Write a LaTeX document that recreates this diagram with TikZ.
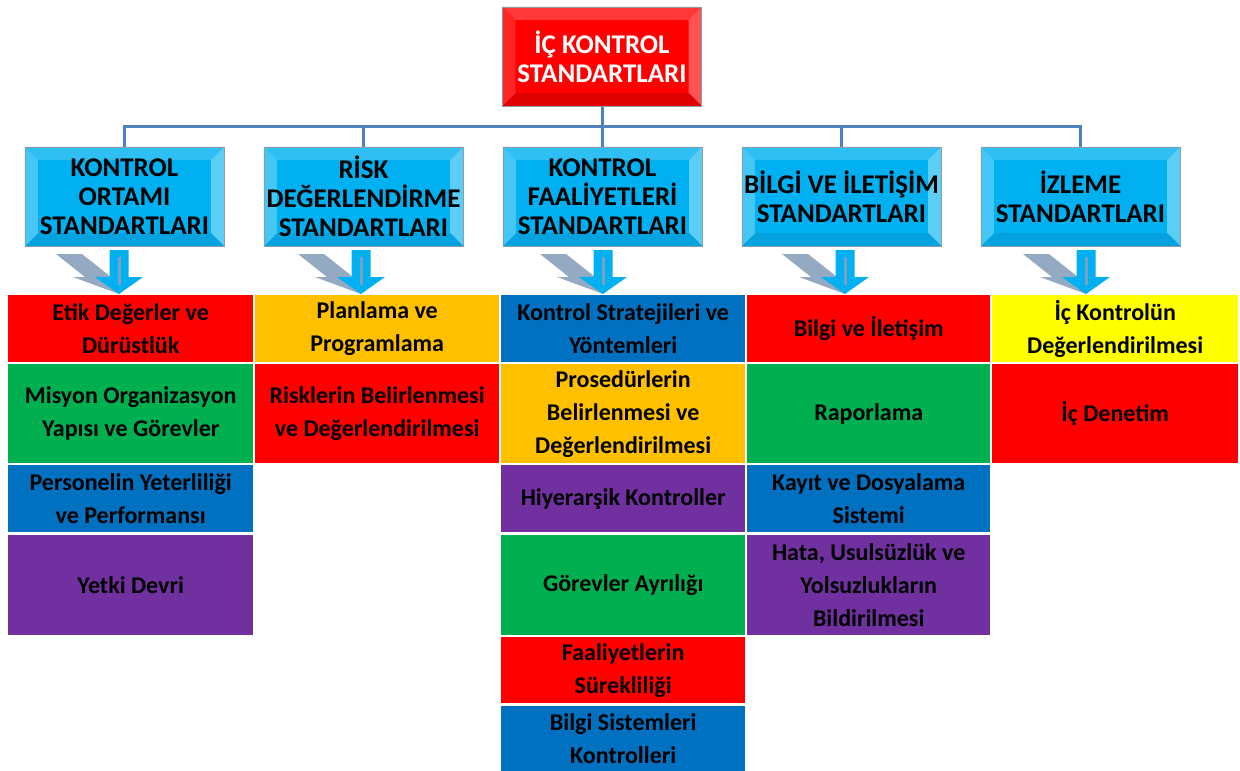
\documentclass[tikz,border=0pt]{standalone}
\usepackage{fontspec}
\setmainfont{Carlito}
\definecolor{cRed}{HTML}{FF0000}
\definecolor{cGreen}{HTML}{00B050}
\definecolor{cBlue}{HTML}{0070C0}
\definecolor{cPurple}{HTML}{7030A0}
\definecolor{cOrange}{HTML}{FFC000}
\definecolor{cYellow}{HTML}{FFFF00}
\definecolor{hCyan}{HTML}{00B0F0}
\definecolor{hTop}{HTML}{30BFF2}
\definecolor{hLeft}{HTML}{45C6F4}
\definecolor{hRight}{HTML}{5CCEF5}
\definecolor{hBottom}{HTML}{04A2DE}
\definecolor{rTop}{HTML}{FF3838}
\definecolor{rLeft}{HTML}{FF2424}
\definecolor{rRight}{HTML}{FF5252}
\definecolor{rBottom}{HTML}{E00000}
\definecolor{hGray}{HTML}{8C9CA8}
\definecolor{lineBlue}{HTML}{4F81BD}
\definecolor{shadowGray}{HTML}{93AAC2}
\definecolor{stripeCol}{HTML}{7E9FC2}
\newcommand\bevelit[5]{%
  \fill[#2] (#1.north west) -- (#1.north east) -- ([shift={(-13,13)}]#1.north east) -- ([shift={(13,13)}]#1.north west) -- cycle;
  \fill[#3] (#1.north east) -- (#1.south east) -- ([shift={(-13,-13)}]#1.south east) -- ([shift={(-13,13)}]#1.north east) -- cycle;
  \fill[#4] (#1.south east) -- (#1.south west) -- ([shift={(13,-13)}]#1.south west) -- ([shift={(-13,-13)}]#1.south east) -- cycle;
  \fill[#5] (#1.south west) -- (#1.north west) -- ([shift={(13,13)}]#1.north west) -- ([shift={(13,-13)}]#1.south west) -- cycle;
  \draw[hGray, line width=0.6pt] (#1.north west) rectangle (#1.south east);
}
\newcommand\downarrowat[1]{%
  \begin{scope}[shift={(#1,294)}]
    \fill[shadowGray] (-63,-40) -- (-37,-40) -- (-8,-17) -- (14,-17) -- (0,0) -- (-46,-17) -- (-34,-17) -- cycle;
    \fill[hCyan] (-9.5,-44) -- (9.5,-44) -- (9.5,-17) -- (24,-17) -- (0,0) -- (-24,-17) -- (-9.5,-17) -- cycle;
    \draw[stripeCol, line width=3pt] (0,-37) -- (0,-9);
  \end{scope}%
}
\begin{document}
\begin{tikzpicture}[x=1pt,y=-1pt,
  cell/.style={rectangle, inner sep=0pt, anchor=north west, align=center, text=black,
    font=\bfseries\fontsize{24}{33}\selectfont},
  hbox/.style={rectangle, inner sep=0pt, minimum width=199pt, minimum height=99pt,
    fill=hCyan, align=center, text=black, font=\bfseries\fontsize{27}{29}\selectfont},
  topbox/.style={hbox, fill=cRed, text=white},
  conn/.style={draw=lineBlue, line width=3pt}]
\useasboundingbox (0,0) rectangle (1240,771);
\fill[white] (0,0) rectangle (1240,771);

% connectors
\coordinate (busL) at (124.5,126);
\node[topbox] (top) at (602,56.5) {};
\node[hbox] (h1) at (124.5,196.5) {};
\node[hbox] (h2) at (363.5,196.5) {};
\node[hbox] (h3) at (602.5,196.5) {};
\node[hbox] (h4) at (841.5,196.5) {};
\node[hbox] (h5) at (1080.5,196.5) {};
\draw[conn] (h1.north) -- (h1.north |- busL) -- (h5.north |- busL) -- (h5.north);
\draw[conn] (top.south) -- (top.south |- busL);
\draw[conn] (h2.north) -- (h2.north |- busL);
\draw[conn] (h3.north) -- (h3.north |- busL);
\draw[conn] (h4.north) -- (h4.north |- busL);

% bevels
\bevelit{top}{rTop}{rRight}{rBottom}{rLeft}
\bevelit{h1}{hTop}{hRight}{hBottom}{hLeft}
\bevelit{h2}{hTop}{hRight}{hBottom}{hLeft}
\bevelit{h3}{hTop}{hRight}{hBottom}{hLeft}
\bevelit{h4}{hTop}{hRight}{hBottom}{hLeft}
\bevelit{h5}{hTop}{hRight}{hBottom}{hLeft}

% texts of boxes
\node[topbox, fill=none] (topt) at (top.center) {İÇ KONTROL\\STANDARTLARI};
\node[hbox, fill=none] (h1t) at (h1.center) {KONTROL\\ORTAMI\\STANDARTLARI};
\node[hbox, fill=none] (h2t) at (h2.center) {RİSK\\DEĞERLENDİRME\\STANDARTLARI};
\node[hbox, fill=none] (h3t) at (h3.center) {KONTROL\\FAALİYETLERİ\\STANDARTLARI};
\node[hbox, fill=none] (h4t) at (h4.center) {BİLGİ VE İLETİŞİM\\STANDARTLARI};
\node[hbox, fill=none] (h5t) at (h5.center) {İZLEME\\STANDARTLARI};

% arrows
\downarrowat{119}
\downarrowat{361}
\downarrowat{603}
\downarrowat{845}
\downarrowat{1086}

% column 1
\node[cell, fill=cRed, minimum width=245pt, minimum height=67pt] (c11) at (8,295) {Etik Değerler ve\\Dürüstlük};
\node[cell, fill=cGreen, minimum width=245pt, minimum height=99pt] (c12) at (8,364) {Misyon Organizasyon\\Yapısı ve Görevler};
\node[cell, fill=cBlue, minimum width=245pt, minimum height=67pt] (c13) at (8,465) {Personelin Yeterliliği\\ve Performansı};
\node[cell, fill=cPurple, minimum width=245pt, minimum height=100pt] (c14) at (8,535) {Yetki Devri};
% column 2
\node[cell, fill=cOrange, minimum width=244pt, minimum height=67pt] (c21) at (255,295) {Planlama ve\\Programlama};
\node[cell, fill=cRed, minimum width=244pt, minimum height=99pt] (c22) at (255,364) {Risklerin Belirlenmesi\\ve Değerlendirilmesi};
% column 3
\node[cell, fill=cBlue, minimum width=244pt, minimum height=67pt] (c31) at (501,295) {Kontrol Stratejileri ve\\Yöntemleri};
\node[cell, fill=cOrange, minimum width=244pt, minimum height=99pt] (c32) at (501,364) {Prosedürlerin\\Belirlenmesi ve\\Değerlendirilmesi};
\node[cell, fill=cPurple, minimum width=244pt, minimum height=67pt] (c33) at (501,465) {Hiyerarşik Kontroller};
\node[cell, fill=cGreen, minimum width=244pt, minimum height=100pt] (c34) at (501,535) {Görevler Ayrılığı};
\node[cell, fill=cRed, minimum width=244pt, minimum height=66pt] (c35) at (501,637) {Faaliyetlerin\\Sürekliliği};
\node[cell, fill=cBlue, minimum width=244pt, minimum height=65pt] (c36) at (501,706) {Bilgi Sistemleri\\Kontrolleri};
% column 4
\node[cell, fill=cRed, minimum width=243pt, minimum height=67pt] (c41) at (747,295) {Bilgi ve İletişim};
\node[cell, fill=cGreen, minimum width=243pt, minimum height=99pt] (c42) at (747,364) {Raporlama};
\node[cell, fill=cBlue, minimum width=243pt, minimum height=67pt] (c43) at (747,465) {Kayıt ve Dosyalama\\Sistemi};
\node[cell, fill=cPurple, minimum width=243pt, minimum height=100pt] (c44) at (747,535) {Hata, Usulsüzlük ve\\Yolsuzlukların\\Bildirilmesi};
% column 5
\node[cell, fill=cYellow, minimum width=246pt, minimum height=67pt] (c51) at (992,295) {İç Kontrolün\\Değerlendirilmesi};
\node[cell, fill=cRed, minimum width=246pt, minimum height=99pt] (c52) at (992,364) {İç Denetim};
\end{tikzpicture}
\end{document}
